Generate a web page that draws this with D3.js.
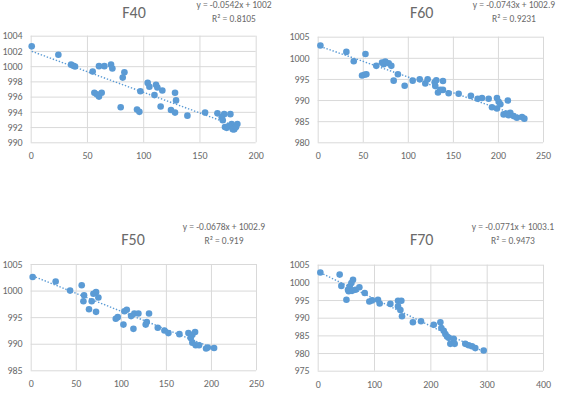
<!DOCTYPE html>
<html lang="en">
<head>
    <meta charset="UTF-8">
    <title>F40 / F60 / F50 / F70 scatter</title>
    <script src="https://d3js.org/d3.v7.min.js"></script>
    <style>
        body { margin: 0; background: #fff; }
        svg text { font-family: Calibri, Carlito, "Liberation Sans", Arial, sans-serif; fill: #6a6a6a; }
        .tick line { stroke: #d9d9d9; }
        .domain { display: none; }
    </style>
</head>
<body>
    <div id="chart"></div>
    <script>
        // values
        const f40X = [0.9, 24.6, 35.9, 37.9, 39.4, 55.1, 60.7, 65.5, 71.4, 72.6, 83.3, 81.8, 56.6, 60.7, 63.1, 58.7,
            80, 94.5, 96.6, 97.5, 104, 105.5, 111.4, 112.6, 117, 110, 115.5, 124.7, 128.3, 128.3, 129.2, 139.3,
            155, 166, 172, 177.5, 169.8, 170.7, 172.7, 175.7, 178.6, 181, 183.7, 179.6, 182.5, 174.2];
        const f40Y = [1002.6, 1001.5, 1000.2, 1000.05, 999.96, 999.3, 1000.0, 1000.0, 1000.2, 999.7, 999.2, 998.5, 996.5, 996.0, 996.5, 996.3,
            994.6, 994.3, 994.0, 996.7, 997.8, 997.3, 997.55, 997.2, 996.8, 996.2, 994.7, 994.25, 993.9, 996.5, 995.5, 993.5,
            993.9, 993.8, 993.7, 993.7, 993.3, 992.9, 992.0, 992.1, 992.4, 991.7, 992.4, 991.7, 992.0, 991.9];

        const f60X = [3, 31.8, 40, 53, 49.2, 51.8, 54, 65, 71.4, 75, 73.2, 78.8, 81.7, 84.3, 89, 96.5, 105.4, 113.2,
            119.4, 122, 129.8, 131.6, 130.5, 133.5, 136, 139, 139, 145.3, 156.4, 170, 177.5, 182.3, 189.7, 198.9,
            200.8, 202.7, 193.4, 198.9, 211, 206.3, 211.8, 213.7, 217.4, 221, 226.7, 229.3, 209.3];
        const f60Y = [1002.9, 1001.4, 999.2, 1000.9, 995.8, 996.0, 996.1, 998.1, 998.9, 999.1, 998.5, 998.7, 998.1, 994.6, 996.1, 993.4, 994.6, 994.9,
            993.95, 994.9, 994.2, 994.7, 993.3, 991.8, 992.4, 994.5, 992.4, 991.6, 991.5, 991.0, 990.3, 990.5, 990.3, 990.5,
            989.6, 989.0, 988.3, 988.0, 989.9, 986.6, 986.4, 987.0, 986.2, 985.8, 986.0, 985.6, 986.8];

        const f50X = [2.2, 27.7, 43.7, 56.6, 59.2, 58.5, 64.7, 67.7, 72.5, 69.6, 72.5, 75.1, 94.4, 96.6, 102.9, 104,
            106.6, 111.4, 115, 119.5, 114, 127.6, 128.8, 131.3, 141, 148.4, 152.8, 165, 175, 182.4, 177.6, 179.4,
            183.1, 186.8, 194.6, 196.5, 203.5, 179.4];
        const f50Y = [1002.55, 1001.7, 1000.0, 1001.0, 999.1, 998.0, 996.5, 998.0, 996.0, 999.4, 999.7, 998.7, 994.7, 995.0, 993.6, 996.1,
            996.4, 995.2, 995.7, 995.7, 992.8, 993.6, 994.1, 995.7, 993.0, 992.5, 992.0, 991.8, 992.0, 992.2, 991.1, 990.2,
            989.7, 989.7, 989.1, 989.3, 989.2, 991.7];

        const f70X = [4.7, 39, 42, 51, 53.8, 56.8, 59.8, 62.7, 61, 67, 74, 83.5, 91.7, 96.4, 107, 110, 129, 142.6,
            148.5, 142.6, 146.8, 149.7, 169, 183.4, 206, 217.8, 219.5, 223.7, 226.6, 229.6, 232.5, 235.5, 241.4,
            243.2, 262, 268, 273.9, 279.8, 294.7, 55];
        const f70Y = [1002.8, 1002.2, 999.0, 995.1, 997.9, 998.8, 999.8, 1000.75, 997.6, 997.9, 998.6, 997.0, 994.6, 994.9, 995.1, 994.0, 993.9, 994.8,
            994.8, 993.2, 992.2, 990.4, 988.7, 989.0, 988.0, 988.7, 987.1, 986.3, 985.4, 984.7, 984.3, 982.6, 984.0,
            982.6, 982.6, 982.2, 981.9, 981.4, 980.7, 997.5];

        // tick labels
        const f40XTicks = [0, 50, 100, 150, 200];
        const f40YTicks = [990, 992, 994, 996, 998, 1000, 1002, 1004];
        const f60XTicks = [0, 50, 100, 150, 200, 250];
        const f60YTicks = [980, 985, 990, 995, 1000, 1005];
        const f50XTicks = [0, 50, 100, 150, 200, 250];
        const f50YTicks = [985, 990, 995, 1000, 1005];
        const f70XTicks = [0, 100, 200, 300, 400];
        const f70YTicks = [975, 980, 985, 990, 995, 1000, 1005];

        // linear trend lines (slope, intercept) and labels
        const f40Fit = [-0.0542, 1002];
        const f60Fit = [-0.0743, 1002.9];
        const f50Fit = [-0.0678, 1002.9];
        const f70Fit = [-0.0771, 1003.1];
        const eqLabels = ["y = -0.0542x + 1002", "y = -0.0743x + 1002.9", "y = -0.0678x + 1002.9", "y = -0.0771x + 1003.1"];
        const r2Labels = ["R\u00B2 = 0.8105", "R\u00B2 = 0.9231", "R\u00B2 = 0.919", "R\u00B2 = 0.9473"];

        const blue = "#5b9bd5";

        const panels = [
            { title: "F40", xs: f40X, ys: f40Y, xt: f40XTicks, yt: f40YTicks, fit: f40Fit, eq: eqLabels[0], r2: r2Labels[0],
              left: 30.7, right: 255.7, top: 35.7, bottom: 142.3, titleX: 134, titleY: 18, eqX: 234, eqY: 8 },
            { title: "F60", xs: f60X, ys: f60Y, xt: f60XTicks, yt: f60YTicks, fit: f60Fit, eq: eqLabels[1], r2: r2Labels[1],
              left: 317.7, right: 543, top: 36.7, bottom: 142.3, titleX: 421.7, titleY: 18, eqX: 514, eqY: 8 },
            { title: "F50", xs: f50X, ys: f50Y, xt: f50XTicks, yt: f50YTicks, fit: f50Fit, eq: eqLabels[2], r2: r2Labels[2],
              left: 30.7, right: 256, top: 264, bottom: 370.3, titleX: 133, titleY: 245, eqX: 224, eqY: 230 },
            { title: "F70", xs: f70X, ys: f70Y, xt: f70XTicks, yt: f70YTicks, fit: f70Fit, eq: eqLabels[3], r2: r2Labels[3],
              left: 317.7, right: 543, top: 264.7, bottom: 370.7, titleX: 421.7, titleY: 245, eqX: 513, eqY: 230 }
        ];

        const svg = d3.select("#chart")
            .append("svg")
            .attr("width", 563)
            .attr("height", 394);

        panels.forEach(function(p) {
            const x = d3.scaleLinear()
                .domain(d3.extent(p.xt))
                .range([p.left, p.right]);
            const y = d3.scaleLinear()
                .domain(d3.extent(p.yt))
                .range([p.bottom, p.top]);

            const g = svg.append("g");

            // y gridlines + labels
            g.append("g")
                .attr("transform", `translate(${p.left},0)`)
                .call(d3.axisLeft(y).tickValues(p.yt).tickFormat(d3.format("d"))
                    .tickSize(-(p.right - p.left)).tickPadding(8))
                .call(a => a.selectAll("text").style("font-size", "10px"));

            // x gridlines + labels
            g.append("g")
                .attr("transform", `translate(0,${p.bottom})`)
                .call(d3.axisBottom(x).tickValues(p.xt).tickFormat(d3.format("d"))
                    .tickSize(-(p.bottom - p.top)).tickPadding(10))
                .call(a => a.selectAll("text").style("font-size", "10px"));

            // title
            g.append("text")
                .attr("x", p.titleX)
                .attr("y", p.titleY)
                .attr("text-anchor", "middle")
                .style("font-size", "16px")
                .text(p.title);

            // equation + R²
            g.append("text")
                .attr("x", p.eqX)
                .attr("y", p.eqY)
                .attr("text-anchor", "middle")
                .style("font-size", "9.5px")
                .text(p.eq);
            g.append("text")
                .attr("x", p.eqX)
                .attr("y", p.eqY + 14)
                .attr("text-anchor", "middle")
                .style("font-size", "9.5px")
                .text(p.r2);

            // points
            const pts = p.xs.map((v, i) => [v, p.ys[i]]);
            g.selectAll(".dot")
                .data(pts)
                .enter()
                .append("circle")
                .attr("cx", d => x(d[0]))
                .attr("cy", d => y(d[1]))
                .attr("r", 3.3)
                .style("fill", blue);

            // trend line
            const xr = d3.extent(p.xs);
            g.append("line")
                .attr("x1", x(xr[0]))
                .attr("y1", y(p.fit[0] * xr[0] + p.fit[1]))
                .attr("x2", x(xr[1]))
                .attr("y2", y(p.fit[0] * xr[1] + p.fit[1]))
                .style("stroke", blue)
                .style("stroke-width", 1.4)
                .style("stroke-dasharray", "1.4,1.8");
        });
    </script>
</body>
</html>
